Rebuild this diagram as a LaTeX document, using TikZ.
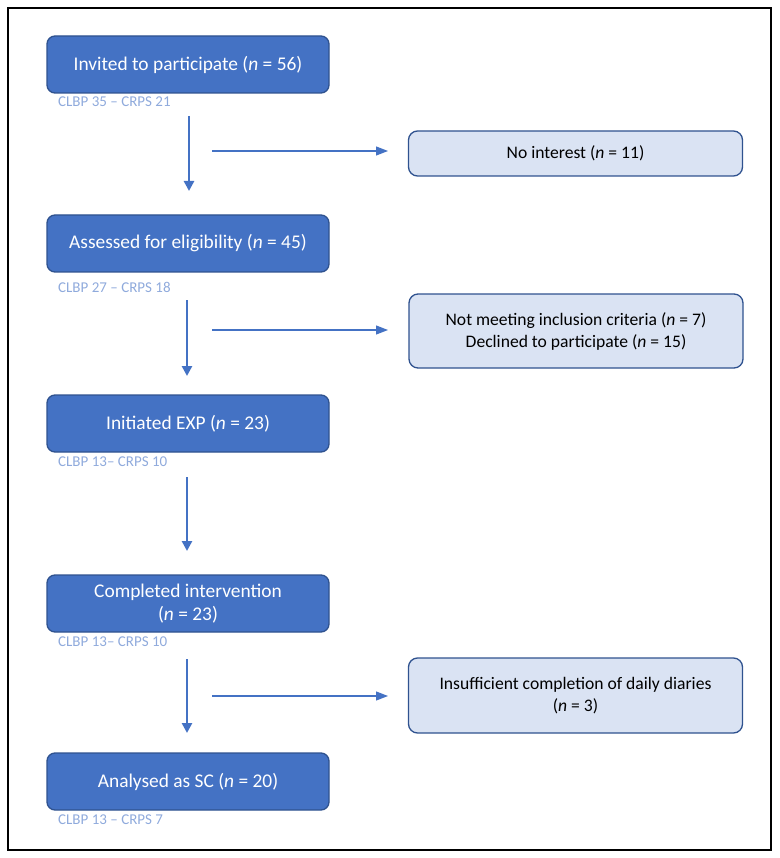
\documentclass[tikz,border=0pt]{standalone}
\usepackage{fontspec}
\setmainfont{Carlito}
\usetikzlibrary{arrows.meta}
\definecolor{dkblue}{HTML}{4472C4}
\definecolor{edgeblue}{HTML}{2F528F}
\definecolor{ltblue}{HTML}{DAE3F3}
\definecolor{lblblue}{HTML}{8FAADC}
\tikzset{
  mainbox/.style={draw=edgeblue, line width=1.3pt, fill=dkblue, rounded corners=8pt,
    minimum width=282pt, minimum height=57pt, text=white, font=\fontsize{19.4}{23}\selectfont, align=center, inner sep=0pt},
  sidebox/.style={draw=edgeblue, line width=1.3pt, fill=ltblue, rounded corners=9pt,
    minimum width=334pt, text=black, font=\fontsize{17.6}{22}\selectfont, align=center, inner sep=0pt},
  sublabel/.style={anchor=west, text=lblblue, font=\fontsize{15}{17}\selectfont, inner sep=0pt},
  downarrow/.style={draw=dkblue, line width=2.8pt, -{Triangle[width=10pt,length=10pt]}},
  sidearrow/.style={draw=dkblue, line width=1.2pt, -{Triangle[width=9pt,length=12pt]}}
}
\begin{document}
\begin{tikzpicture}[x=1pt,y=-1pt]
\useasboundingbox (0,0) rectangle (779,858);
\draw[line width=1.4pt] (8,8) rectangle (771,850);

\node[mainbox] (b1) at (188,64.5) {Invited to participate (\textit{n} = 56)};
\node[sublabel] (l1) at (58,102) {CLBP 35 – CRPS 21};
\node[mainbox] (b2) at (188,243.5) {Assessed for eligibility (\textit{n} = 45)};
\node[sublabel] (l2) at (58,287) {CLBP 27 – CRPS 18};
\node[mainbox] (b3) at (188,423.5) {Initiated EXP (\textit{n} = 23)};
\node[sublabel] (l3) at (58,462) {CLBP 13– CRPS 10};
\node[mainbox] (b4) at (188,603.5) {Completed intervention\\(\textit{n} = 23)};
\node[sublabel] (l4) at (58,642) {CLBP 13– CRPS 10};
\node[mainbox] (b5) at (188,781.5) {Analysed as SC (\textit{n} = 20)};
\node[sublabel] (l5) at (58,820) {CLBP 13 – CRPS 7};

\node[sidebox, minimum height=45pt] (s1) at (575.5,153.5) {No interest (\textit{n} = 11)};
\node[sidebox, minimum height=74pt] (s2) at (576,331) {Not meeting inclusion criteria (\textit{n} = 7)\\Declined to participate (\textit{n} = 15)};
\node[sidebox, minimum height=75pt] (s3) at (575.5,695.5) {Insufficient completion of daily diaries\\(\textit{n} = 3)};

\coordinate (a1s) at (189,116); \coordinate (a1e) at (189,191);
\coordinate (a2s) at (187,300); \coordinate (a2e) at (187,376);
\coordinate (a3s) at (187,477); \coordinate (a3e) at (187,551);
\coordinate (a4s) at (187,659); \coordinate (a4e) at (187,733);
\draw[downarrow] (a1s) -- (a1e);
\draw[downarrow] (a2s) -- (a2e);
\draw[downarrow] (a3s) -- (a3e);
\draw[downarrow] (a4s) -- (a4e);

\coordinate (h1) at (212,151); \coordinate (h2) at (212,330); \coordinate (h3) at (212,696);
\draw[sidearrow] (h1) -- (388,151);
\draw[sidearrow] (h2) -- (388,330);
\draw[sidearrow] (h3) -- (388,696);
\end{tikzpicture}
\end{document}
